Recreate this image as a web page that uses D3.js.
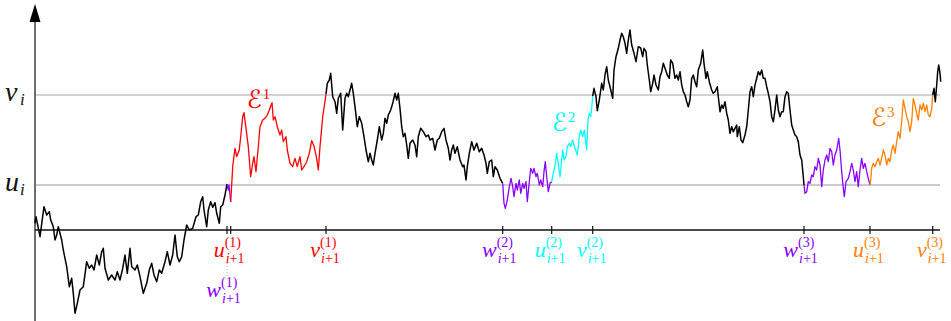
<!DOCTYPE html>
<html>
<head>
<meta charset="utf-8">
<script src="https://cdn.jsdelivr.net/npm/d3@7"></script>
<style>
  body { margin: 0; background: #fff; }
  svg { display: block; }
  text { font-family: "Liberation Serif", "DejaVu Serif", serif; }
</style>
</head>
<body>
<div id="chart"></div>
<script>
// the walk: [time, height above the axis]
var walk = [
  [0,6.7],[1,13.3],[5,-6.7],[9,23.3],[11.7,15],[14.3,18.3],[15.7,10],[18.3,3.3],[20,-10],[21.7,-5],
  [23.3,3.3],[25,-3.3],[26.7,-10],[28.3,-20],[31.7,-36.7],[34.3,-56.7],[36.7,-48.3],[38.3,-63.3],[40,-83.3],[42.3,-73.3],
  [45,-60],[48.3,-56.7],[51.7,-31.7],[54.3,-38.3],[56.7,-35],[59,-40],[61.7,-25],[64.3,-35],[66.7,-21.7],[68.3,-18.3],
  [70,-38.3],[73.3,-50],[76.7,-45],[80,-50],[82.3,-41.7],[85,-50],[87.7,-38.3],[90,-25],[92.3,-43.3],[95,-18.3],
  [96.7,-36.7],[100,-40],[102.3,-35],[105,-46.7],[108.3,-63.3],[111.7,-53.3],[114.3,-40],[116.7,-33.3],[119,-45],[121.7,-51.7],
  [124.3,-40],[126.7,-43.3],[130,-31.7],[132.3,-21.7],[135,-35],[137.7,-25],[140,-5],[142.3,-26.7],[144.3,-31.7],[146.7,-26.7],
  [149,-10],[151.7,5],[154.3,0],[157.7,1.7],[161,13.3],[163.3,15],[165.7,28.3],[167.7,33.3],[169,20],[171.7,3.3],
  [173.3,20],[175.7,28.3],[177.7,22.7],[180,27.3],[181.7,16.7],[184.3,6.7],[185.7,23.3],[187.7,25],[190,35],[192,46],
  [193.3,40],[194,45],[195.7,28],
  [197.7,63.3],[200,81.7],[201.7,73.3],[204.3,80],[205.7,93.3],[207.7,113.3],[209,117.3],[211,101.7],[213.3,83.3],[215.7,53.3],
  [217.7,66.7],[219,73.3],[221,58.3],[223.3,83.3],[225,103.3],[227.7,110],[230,111.7],[232.3,115],[234.3,120],[237,127.3],
  [238.3,110],[240,113.3],[242.3,103.3],[245,95],[246.7,100],[248.3,88.3],[251,93.3],[252.3,80],[255,66.7],[257.7,63.3],
  [260,71.7],[262.3,63.3],[265,73.3],[266.7,60],[269,63.3],[271.7,68.3],[274.3,76.7],[276.7,89.3],[279,84],[281.7,71.7],
  [283.3,60],[285,83.3],[287.7,113.3],[289.7,126.7],[291,136],
  [292.3,146.7],[294.3,150],[295.7,156.7],[297.7,133.3],[300,128.3],[301.7,116.7],[303.3,131.7],[305.7,136.7],[307.7,100],[310,131.7],
  [311.7,136.7],[313.3,133.3],[316.7,146.7],[318.3,136.7],[320,123.3],[322.3,103.3],[324.3,113.3],[326.7,106.7],[329,93.3],[331,80],
  [333.3,68.3],[335,76.7],[336.7,70],[338.3,65],[340,76.7],[342.3,90],[344.3,103.3],[346.7,90],[348.3,96.7],[350,111.7],
  [351.7,106.7],[353.3,115],[355.7,120],[357.7,126.7],[360,136.7],[361.7,130],[363.3,136.7],[365,121.7],[366.7,103.3],[368.3,93.3],
  [370,96.7],[371.7,85],[373.3,71.7],[375,86.7],[377.7,90],[380,85],[381.7,73.3],[383.3,93.3],[385.7,101.7],[388.3,98.3],
  [391,93.3],[393.3,95],[395,90],[397.7,91.7],[400,80],[402.3,90],[404.3,91.7],[406.7,98.3],[409,101.7],[411,90],
  [413.3,81.7],[415,70],[416.7,80],[418.3,85],[420,76.7],[422.3,83.3],[425,70],[427.7,63.3],[429,65],[431,50],
  [432.3,63.3],[434.3,76.7],[436.7,88.3],[439,80],[441.7,86.7],[444.3,78.3],[446.7,81.7],[449,75],[451,66.7],[452.3,56.7],
  [454.3,68.3],[456.7,70],[458.3,53.3],[460,63.3],[462.3,60],[465,51.7],[467.7,46.7],
  [469,26.7],[470.3,21.7],[472.3,30],[474.3,43.3],[476,51.7],[477.7,43.3],[479,33.3],[481,46.7],[482.3,40],[484.3,50],
  [485.7,36.7],[487.7,46.7],[489,41.7],[491,48.3],[492.3,28.3],[494.3,48.3],[495.7,61.7],[497.7,56.7],[499,61.7],[501,53.3],
  [502.3,56.7],[504.3,45],[505.7,50],[507.7,43.3],[509,58.3],[510.3,68.3],[511.7,53.3],[513.3,38.3],[515,46.7],[516.7,48.3],
  [518.3,56.7],[520,65],[521.7,76.7],[523.3,66.7],[525,53.3],[526.7,70],[527.7,80],[529,70],[531,73.3],[532.3,83.3],
  [534.3,86.7],[535.7,83.3],[537.7,90],[540,81.7],[542.3,75],[544.3,93.3],[545.7,100],[547.7,93.3],[549.3,100],[551.7,80],
  [553,110],[554.3,116.7],[555.7,113.3],[557,125],[557.7,134],
  [559,141.7],[561,133.3],[562.3,119.3],[564.3,130],[566.7,146.7],[568.3,140],[570,155],[571.7,163.3],[573.3,150],[575,143.3],
  [577.7,131.7],[579,160],[581,173.3],[583.3,181.7],[585,190],[586.7,196.7],[588.3,193.3],[590,186.7],[591.7,176.7],[593.3,190],
  [595,200],[596.7,185],[599,176.7],[601,168.3],[603.3,183.3],[605.7,182],[607.7,173.3],[609,181.7],[611,178.3],[612.3,165],
  [614.3,150],[615.7,138.3],[617.7,146.7],[619,155],[621,145],[623.3,140],[625,153.3],[626.7,158.3],[628.3,166.7],[630,161.7],
  [632.3,155],[634.3,151.7],[635.7,170],[637.7,166.7],[640,151.7],[641.7,155],[643.3,150],[645,158.3],[646.7,145],[648.3,138.3],
  [650,135],[651.7,128.3],[653.3,123.3],[655,130],[656.7,151.7],[658.3,155],[660,148.3],[661.7,143.3],[663.3,160],[665.7,166.7],
  [667.7,180],[669,166.7],[671,151.7],[672.3,158.3],[674.3,148.3],[676.7,140],[678.3,136.7],[680,138.3],[682.3,143.3],[683.3,133.3],
  [685,118.3],[686.7,125],[688.3,121.7],[690,128.3],[691.7,116.7],[693.3,110],[695,96.7],[696.7,103.3],[698.3,98.3],[700,101.7],
  [701.7,105],[702.3,93.3],[704.3,103.3],[706,90],[707.7,87.3],[710,95],[711.7,103.3],[713.3,120],[715,138.3],[716.7,143.3],
  [718.3,133.3],[720,145],[721.7,151.7],[723.3,158.3],[725,155],[726.7,160],[728.3,151.7],[730,151.7],[731.7,143.3],[733.3,136.7],
  [735,128.3],[736.7,113.3],[738.3,108.3],[740,120],[741.7,135],[743.3,120],[745,113.3],[746.7,118.3],[748.3,118.3],[750,133.3],
  [751.7,138.3],[753.3,136.7],[755,120],[756.7,105],[758.3,100],[760,95],[761.7,93.3],[763.3,88.3],[765,75],[766.7,70],
  [768.3,53.3],[769,45],
  [770,36.7],[771.7,38.3],[773.3,48.3],[775,46.7],[776.7,55],[778.3,53.3],[780,63.3],[781.7,60],[783.3,71.7],[785,65],
  [786.7,43.3],[788.3,60],[790,70],[791.7,75],[793.3,68.3],[795,81.7],[796.7,78.3],[798.3,65],[800,75],[801.7,80],
  [803.7,91.7],[805,80],[806.7,58.3],[808.3,41.7],[809.3,33.3],[811,48.3],[813.3,51.7],[815,58.3],[816.7,66.7],[818.3,60],
  [820,48.3],[821.7,58.3],[823.3,43.3],[825,60],[826.7,71.7],[828.3,61.7],[830,66.7],[831.7,58.3],[833.3,51.7],[835,45],
  [835.7,50],[836.7,61.7],[838.3,66.7],[840,63.3],[841.7,68.3],[843.3,71.7],[845,65],[846.7,71.7],[848.3,80],[850,75],
  [851.7,65],[853.3,71.7],[855,68.3],[856.7,80],[858.3,85],[860,76.7],[861.7,88.3],[863.3,98.3],[865,91.7],[866.7,108.3],
  [868.3,130],[870,121.7],[871.7,113.3],[873.3,108.3],[875,98.3],[876.7,108.3],[878.3,131.7],[880,125],[881.7,116.7],[883.3,110],
  [885,125],[886.7,120],[888.3,126.7],[890,118.3],[891.7,125],[893.3,115],[895,113.3],[896.7,121.7],[897.7,135],
  [899,141.7],[900.3,128.3],[901.7,145],[902.7,158.3],[903.7,165],[905,156.7],[905.7,148.3]
];

// marked times on the axis
var tickLetters = ['w', 'u', 'v', 'w', 'u', 'v', 'w', 'u', 'v'];
var tickRounds = [1, 1, 1, 2, 2, 2, 3, 3, 3];
var tickTimes = [192, 195.7, 291, 467.7, 516.7, 557.7, 769, 835, 897.7];

// horizontal levels
var levelNames = ['u', 'v'];
var levelValues = [45, 135];

// excursion names
var excursionNames = ['\u2130', '\u2130', '\u2130'];
var excursionRounds = [1, 2, 3];

(function() {
  var width = 951;
  var height = 321;

  var svg = d3.select('#chart')
    .append('svg')
    .attr('width', width)
    .attr('height', height);

  svg.append('rect').attr('width', width).attr('height', height).attr('fill', '#fff');

  var x = d3.scaleLinear().domain([0, 905]).range([35, 940]);
  var y = d3.scaleLinear().domain([-91, 225]).range([321, 5]);

  var roundColor = { 1: '#ff0000', 2: '#00ffff', 3: '#ff8000' };
  var purple = '#8a00ff';

  function colorOf(letter, round) {
    return letter == 'w' ? purple : roundColor[round];
  }

  // level lines
  levelValues.forEach(function(v, i) {
    svg.append('line')
      .attr('x1', x(0)).attr('x2', x(905))
      .attr('y1', y(v)).attr('y2', y(v))
      .attr('stroke', i == 0 ? '#b8b8b8' : '#d2d2d2')
      .attr('stroke-width', i == 0 ? 1.3 : 2);

    svg.append('text')
      .attr('x', 5)
      .attr('y', y(v) + 6)
      .attr('font-size', 28)
      .attr('font-style', 'italic')
      .attr('fill', '#111')
      .text(levelNames[i]);
    svg.append('text')
      .attr('x', 20)
      .attr('y', y(v) + 10)
      .attr('font-size', 17)
      .attr('font-style', 'italic')
      .attr('fill', '#111')
      .text('i');
  });

  // y axis with arrow
  svg.append('line')
    .attr('x1', x(0)).attr('x2', x(0))
    .attr('y1', height).attr('y2', y(225) + 14)
    .attr('stroke', '#6e6e6e')
    .attr('stroke-width', 2);
  svg.append('path')
    .attr('d', 'M' + x(0) + ',' + (y(225) - 1) + 'L' + (x(0) - 5.5) + ',' + (y(225) + 17) + 'L' + (x(0) + 5.5) + ',' + (y(225) + 17) + 'Z')
    .attr('fill', '#000');

  // x axis
  svg.append('line')
    .attr('x1', x(0)).attr('x2', x(905))
    .attr('y1', y(0)).attr('y2', y(0))
    .attr('stroke', '#111')
    .attr('stroke-width', 1.3);

  // split the walk at the marked times and colour each piece
  var bounds = [0].concat(tickTimes).concat([walk[walk.length - 1][0]]);
  var line = d3.line()
    .x(function(d) { return x(d[0]); })
    .y(function(d) { return y(d[1]); });

  for (var i = 0; i < bounds.length - 1; i++) {
    var a = bounds[i], b = bounds[i + 1];
    var pts = walk.filter(function(p) { return p[0] >= a - 1e-6 && p[0] <= b + 1e-6; });
    var col = '#000';
    if (i > 0 && tickLetters[i - 1] != 'v') col = colorOf(tickLetters[i - 1], tickRounds[i - 1]);
    svg.append('path')
      .datum(pts)
      .attr('d', line)
      .attr('fill', 'none')
      .attr('stroke', col)
      .attr('stroke-width', col == '#000' ? 1.5 : 1.3)
      .attr('stroke-linejoin', 'round');
  }

  // ticks and their labels
  tickTimes.forEach(function(t, i) {
    var cx = x(t);
    var col = colorOf(tickLetters[i], tickRounds[i]);
    svg.append('line')
      .attr('x1', cx).attr('x2', cx)
      .attr('y1', y(0) - 4).attr('y2', y(0) + 4)
      .attr('stroke', '#111')
      .attr('stroke-width', 1.2);

    // drop the label when the next tick sits too close
    var dropped = i < tickTimes.length - 1 && x(tickTimes[i + 1]) - cx < 10;
    var base = y(0) + (dropped ? 67 : 27);
    if (dropped) {
      svg.append('line')
        .attr('x1', cx).attr('x2', cx)
        .attr('y1', y(0) + 33).attr('y2', y(0) + 47)
        .attr('stroke', '#bbb')
        .attr('stroke-width', 1)
        .attr('stroke-dasharray', '1,2');
    }
    var g = svg.append('g').attr('fill', col);
    g.append('text')
      .attr('x', cx - 6).attr('y', base)
      .attr('text-anchor', 'end')
      .attr('font-size', 22)
      .attr('font-style', 'italic')
      .text(tickLetters[i]);
    g.append('text')
      .attr('x', cx - 6).attr('y', base - 10)
      .attr('font-size', 14)
      .text('(' + tickRounds[i] + ')');
    var sub = g.append('text')
      .attr('x', cx - 5).attr('y', base + 6)
      .attr('font-size', 14);
    sub.append('tspan').attr('font-style', 'italic').text('i');
    sub.append('tspan').text('+1');
  });

  // excursion names
  var nameShift = [[16, 13], [0, 36], [1, 31]];
  excursionRounds.forEach(function(r, i) {
    var ut = tickTimes[tickLetters.indexOf('u') + 3 * i];
    var lx = x(ut) + nameShift[i][0];
    var ly = y(levelValues[1]) + nameShift[i][1];
    svg.append('text')
      .attr('x', lx).attr('y', ly)
      .attr('font-size', 25)
      .attr('font-style', 'italic')
      .attr('fill', roundColor[r])
      .style('font-family', '"DejaVu Serif", "DejaVu Sans", serif')
      .text(excursionNames[i]);
    svg.append('text')
      .attr('x', lx + 16).attr('y', ly - 9)
      .attr('font-size', 15)
      .attr('fill', roundColor[r])
      .text(r);
  });
})();
</script>
</body>
</html>
